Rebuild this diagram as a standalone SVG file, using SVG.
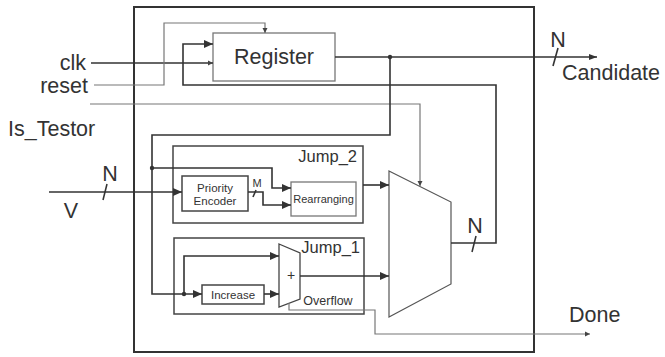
<svg xmlns="http://www.w3.org/2000/svg" width="665" height="357" viewBox="0 0 665 357">
<style>
text{font-family:"Liberation Sans",Arial,sans-serif;fill:#333}
.d{fill:none;stroke:#333;stroke-width:1.6}
.g{fill:none;stroke:#777;stroke-width:1.2}
.gd{fill:none;stroke:#555;stroke-width:1.2}
.box{fill:#fff;stroke:#777;stroke-width:1.3}
.boxd{fill:#fff;stroke:#444;stroke-width:1.5}
</style>
<defs>
<marker id="big" markerUnits="userSpaceOnUse" markerWidth="10" markerHeight="10" refX="9" refY="5" orient="auto"><path d="M0,1 L9,5 L0,9 Z" fill="#333"/></marker>
<marker id="mid" markerUnits="userSpaceOnUse" markerWidth="10" markerHeight="8" refX="8" refY="4" orient="auto"><path d="M0,1 L8,4 L0,7 Z" fill="#333"/></marker>
<marker id="sm" markerUnits="userSpaceOnUse" markerWidth="6" markerHeight="6" refX="5" refY="3" orient="auto"><path d="M0,0.5 L5,3 L0,5.5 Z" fill="#444"/></marker>
</defs>
<rect x="134" y="7" width="400" height="345" fill="none" stroke="#333" stroke-width="2"/>
<g id="register">
<rect class="box" x="213" y="33" width="122" height="48"/>
<text x="274" y="64" font-size="21.5" text-anchor="middle">Register</text>
</g>
<g id="jump2">
<rect class="boxd" x="173" y="146" width="190" height="77"/>
<text x="357" y="162" font-size="16.5" text-anchor="end">Jump_2</text>
</g>
<g id="priority-encoder">
<rect class="boxd" x="182" y="176" width="66" height="35"/>
<text x="215" y="192" font-size="11.5" text-anchor="middle">Priority</text>
<text x="215" y="205" font-size="11.5" text-anchor="middle">Encoder</text>
</g>
<g id="rearranging">
<rect class="box" x="291" y="182" width="65" height="34"/>
<text x="323.5" y="203" font-size="11" text-anchor="middle">Rearranging</text>
</g>
<g id="jump1">
<rect class="boxd" x="174" y="238" width="190" height="76"/>
<text x="360" y="253" font-size="16.5" text-anchor="end">Jump_1</text>
<text x="328" y="305" font-size="12.5" text-anchor="middle">Overflow</text>
</g>
<g id="increase">
<rect class="boxd" x="202" y="285" width="62" height="19"/>
<text x="233" y="299" font-size="11.5" text-anchor="middle">Increase</text>
</g>
<g id="adder">
<path d="M279,244 L300,253 L300,299 L279,307 Z" fill="#fff" stroke="#444" stroke-width="1.3"/>
<text x="291" y="280" font-size="14" text-anchor="middle">+</text>
</g>
<g id="mux">
<path d="M389,171 L451,202 L451,284 L389,317 Z" fill="#fff" stroke="#555" stroke-width="1.2"/>
</g>
<g id="connectors">
<path class="d" d="M91,63 H213" marker-end="url(#sm)"/>
<path class="g" d="M94,85 H164 V23 H265 V33" marker-end="url(#sm)"/>
<path class="g" d="M90,104 H420 V186" marker-end="url(#sm)"/>
<path class="d" d="M335,57 H597" marker-end="url(#mid)"/>
<path class="d" d="M390,57 V135 H152 V294 H202" marker-end="url(#big)"/>
<path class="d" d="M152,168 H272 V188 H291" marker-end="url(#big)"/>
<path class="d" d="M248,192 H263 V205 H291" marker-end="url(#big)"/>
<path class="d" d="M49,192 H182" marker-end="url(#big)"/>
<path class="d" d="M363,185 H389" marker-end="url(#big)"/>
<path class="d" d="M184,294 V256 H279" marker-end="url(#big)"/>
<path class="d" d="M264,294 H279" marker-end="url(#big)"/>
<path class="d" d="M300,276 H389" marker-end="url(#big)"/>
<path class="d" d="M451,243 H496 V85 H183 V44 H213" marker-end="url(#big)"/>
<path class="g" d="M289,303 V310 H375 V334 H590" marker-end="url(#sm)"/>
<circle cx="390" cy="57" r="2.2" fill="#333"/>
<circle cx="152" cy="168" r="2.2" fill="#333"/>
<circle cx="184" cy="294" r="2.2" fill="#333"/>
<path class="d" d="M558,48 L553,66" stroke-width="1.2"/>
<path class="d" d="M107,184 L103,200" stroke-width="1.2"/>
<path class="d" d="M256,190 L253,197" stroke-width="1"/>
<path class="d" d="M476,236 L472,252" stroke-width="1.2"/>
</g>
<g id="labels">
<text x="86" y="70" font-size="21.5" text-anchor="end">clk</text>
<text x="88" y="93" font-size="21.5" text-anchor="end">reset</text>
<text x="8" y="136" font-size="21.5">Is_Testor</text>
<text x="558" y="47" font-size="21.5" text-anchor="middle">N</text>
<text x="562" y="80" font-size="21.5">Candidate</text>
<text x="110" y="181" font-size="21.5" text-anchor="middle">N</text>
<text x="71" y="218" font-size="21.5" text-anchor="middle">V</text>
<text x="257" y="187" font-size="11" text-anchor="middle">M</text>
<text x="475" y="233" font-size="21.5" text-anchor="middle">N</text>
<text x="569" y="322" font-size="21.5">Done</text>
</g>
</svg>
